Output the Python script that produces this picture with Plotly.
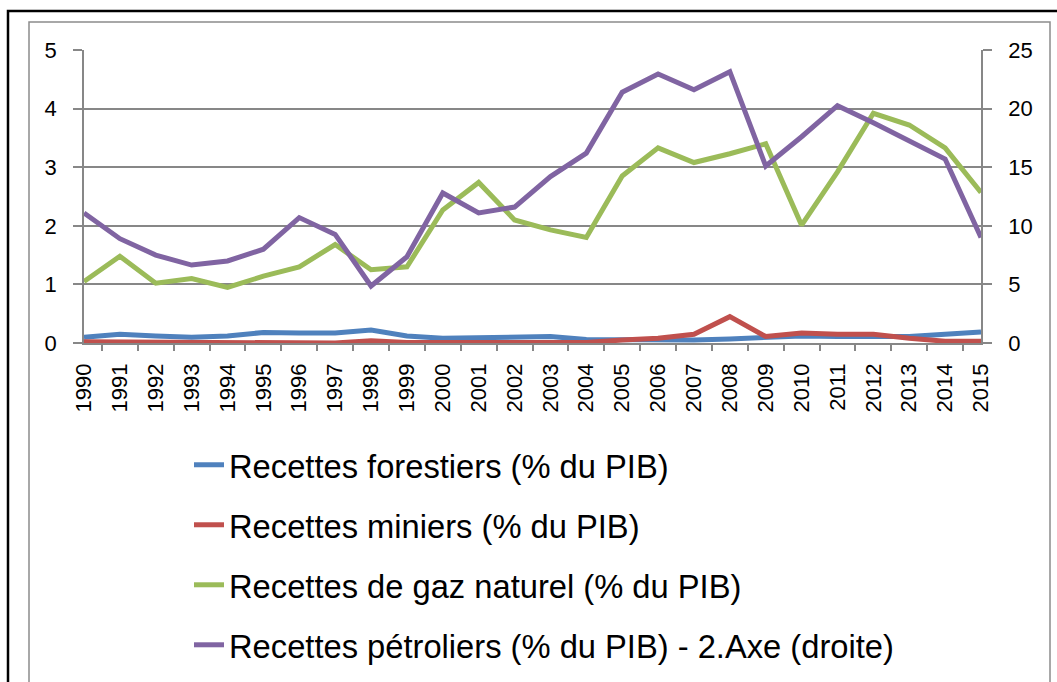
import plotly.graph_objects as go

years = [str(y) for y in range(1990, 2016)]
forestiers = [0.10, 0.15, 0.12, 0.10, 0.12, 0.18, 0.17, 0.17, 0.22, 0.12, 0.08, 0.09, 0.09, 0.11, 0.06,
              0.05, 0.05, 0.05, 0.07, 0.09, 0.12, 0.11, 0.11, 0.11, 0.15, 0.19]
miniers = [0.02, 0.02, 0.02, 0.01, 0.01, 0.01, 0.01, 0.00, 0.04, 0.01, 0.01, 0.01, 0.01, 0.01, 0.01,
           0.05, 0.08, 0.15, 0.45, 0.11, 0.17, 0.15, 0.15, 0.08, 0.03, 0.03]
gaz = [1.05, 1.48, 1.02, 1.10, 0.95, 1.14, 1.30, 1.68, 1.25, 1.30, 2.27, 2.74, 2.10, 1.93, 1.80,
       2.85, 3.33, 3.08, 3.23, 3.40, 2.01, 2.92, 3.92, 3.72, 3.33, 2.57]
petrole = [11.1, 8.9, 7.5, 6.65, 7.0, 8.0, 10.7, 9.27, 4.86, 7.36, 12.8, 11.1, 11.6, 14.2, 16.2,
           21.4, 22.95, 21.6, 23.15, 15.1, 17.6, 20.25, 18.8, 17.3, 15.7, 9.0]

names = ["Recettes forestiers (% du PIB)", "Recettes miniers (% du PIB)",
         "Recettes de gaz naturel (% du PIB)", "Recettes pétroliers (% du PIB) - 2.Axe (droite)"]
colors = ["#4F81BD", "#C0504D", "#9BBB59", "#8064A2"]

fig = go.Figure()
for i, (vals, axis) in enumerate([(forestiers, "y"), (miniers, "y"), (gaz, "y"), (petrole, "y2")]):
    fig.add_trace(go.Scatter(x=years, y=vals, name=names[i], yaxis=axis, mode="lines",
                             line=dict(color=colors[i], width=5), legendgroup=f"g{i}"))

grid = "#878787"
L, R, T, B = 84, 981, 50, 343
W, H = R - L, B - T

def px(x):
    return (x - L) / W

def py(y):
    return (B - y) / H

fig.update_layout(
    width=1057, height=682,
    margin=dict(l=L, r=1057 - R, t=T, b=682 - B, autoexpand=False),
    paper_bgcolor="white", plot_bgcolor="white",
    font=dict(family="Liberation Sans, Arial, sans-serif", color="black"),
    showlegend=True,
    legend=dict(x=px(189), y=py(437), xanchor="left", yanchor="top",
                font=dict(size=32.7, color="black"), tracegroupgap=14.5,
                bgcolor="rgba(0,0,0,0)"),
    xaxis=dict(type="category", tickangle=-90, tickfont=dict(size=22), automargin=False,
               showline=True, linecolor=grid, linewidth=1.5, ticklabelstandoff=10,
               ticks="outside", tickson="boundaries", ticklen=6, tickcolor=grid, tickwidth=1.5,
               showgrid=False, zeroline=False),
    yaxis=dict(range=[0, 5], dtick=1, tickfont=dict(size=22), automargin=False,
               showline=True, linecolor=grid, linewidth=1.5, ticklabelstandoff=12,
               ticks="outside", ticklen=9, tickcolor=grid, tickwidth=1.5,
               showgrid=True, gridcolor=grid, gridwidth=1.5, zeroline=False),
    yaxis2=dict(range=[0, 25], dtick=5, overlaying="y", side="right", tickfont=dict(size=22),
                automargin=False, ticklabelstandoff=12,
                showline=True, linecolor=grid, linewidth=1.5,
                ticks="outside", ticklen=9, tickcolor=grid, tickwidth=1.5,
                showgrid=False, zeroline=False),
    shapes=[
        dict(type="rect", xref="paper", yref="paper", x0=px(29), x1=px(1050), y0=py(720), y1=py(22),
             line=dict(color="#8c8c8c", width=1.5), layer="below"),
        dict(type="rect", xref="paper", yref="paper", x0=px(8), x1=px(1080), y0=py(720), y1=py(11),
             line=dict(color="black", width=2.5), layer="below"),
    ],
)

fig.write_html("out.html", config={"displayModeBar": False},
               post_script="document.body.style.margin='0px';document.body.style.overflow='hidden';")
